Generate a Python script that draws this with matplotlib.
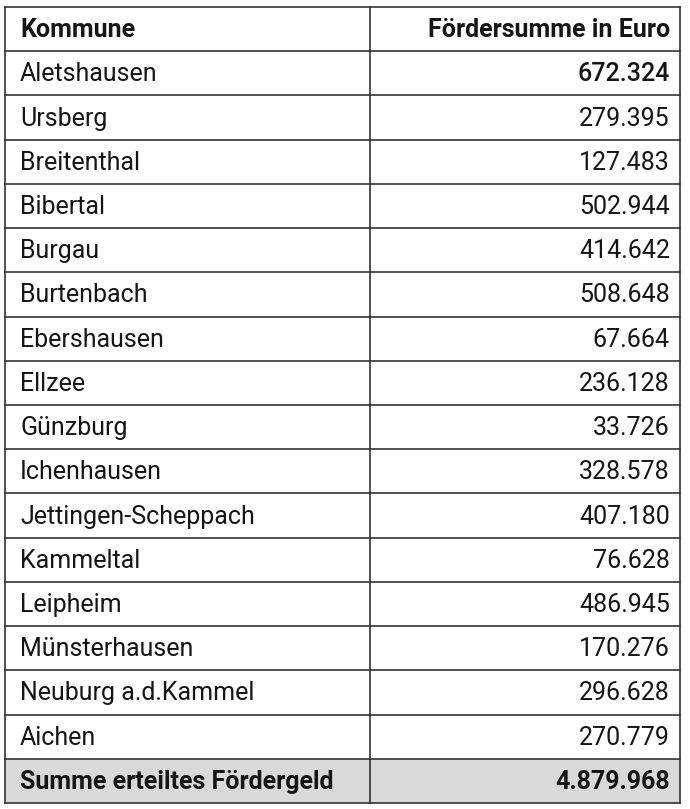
import matplotlib
matplotlib.use('Agg')
import matplotlib.pyplot as plt
from matplotlib.patches import Rectangle

plt.rcParams['font.family'] = ['Roboto', 'DejaVu Sans']

header = ['Kommune', 'Fördersumme in Euro']
kommunen = ['Aletshausen', 'Ursberg', 'Breitenthal', 'Bibertal', 'Burgau',
            'Burtenbach', 'Ebershausen', 'Ellzee', 'Günzburg', 'Ichenhausen',
            'Jettingen-Scheppach', 'Kammeltal', 'Leipheim', 'Münsterhausen',
            'Neuburg a.d.Kammel', 'Aichen']
summen = ['672.324', '279.395', '127.483', '502.944', '414.642', '508.648',
          '67.664', '236.128', '33.726', '328.578', '407.180', '76.628',
          '486.945', '170.276', '296.628', '270.779']
total_label = 'Summe erteiltes Fördergeld'
total_value = '4.879.968'

W, H = 690, 809
fig = plt.figure(figsize=(W / 100, H / 100), dpi=100)
ax = fig.add_axes([0, 0, 1, 1])
ax.set_xlim(0, W)
ax.set_ylim(H, 0)
ax.axis('off')

left, right, mid = 5, 680, 370
top, bottom = 7, 803
rows = [header] + list(zip(kommunen, summen)) + [(total_label, total_value)]
n = len(rows)
rh = (bottom - top) / n

# grey total row
ax.add_patch(Rectangle((left, top + (n - 1) * rh), right - left, rh,
                       facecolor='#d9d9d9', edgecolor='none', zorder=0))

for i in range(n + 1):
    y = top + i * rh
    ax.plot([left, right], [y, y], color='#333333', lw=1.2, zorder=2)
for x in (left, mid, right):
    ax.plot([x, x], [top, bottom], color='#333333', lw=1.2, zorder=2)

fs = 18
for i, (name, val) in enumerate(rows):
    yc = top + (i + 0.5) * rh + 1
    bold = i == 0 or i == n - 1
    w = 'bold' if bold else 'normal'
    vw = 'bold' if bold else ('medium' if i == 1 else 'normal')
    ax.text(left + 15, yc, name, fontsize=fs, fontweight=w,
            va='center', ha='left', color='#151515')
    ax.text(right - 10, yc, val, fontsize=fs, fontweight=vw,
            va='center', ha='right', color='#151515')

fig.savefig('out.png', dpi=100)
